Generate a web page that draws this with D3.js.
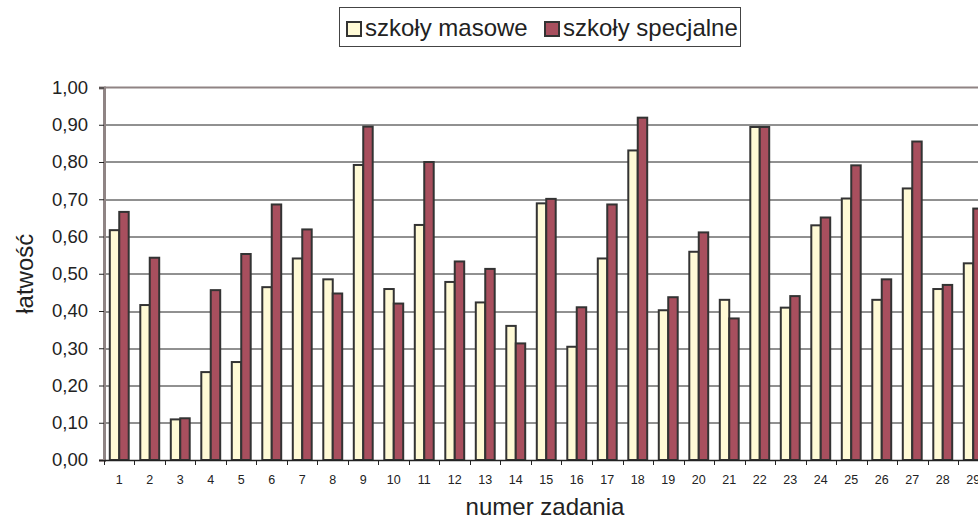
<!DOCTYPE html>
<html>
<head>
<meta charset="utf-8">
<script src="https://cdn.jsdelivr.net/npm/d3@7"></script>
<style>
  body { margin: 0; background: #fff; }
  svg { display: block; font-family: "Liberation Sans", Arial, sans-serif; }
</style>
</head>
<body>
<div id="chart"></div>
<script>
// numer zadania
var categories = d3.range(1, 30).map(String);

// łatwość - szkoły masowe
var masowe = [0.617, 0.416, 0.109, 0.236, 0.263, 0.464, 0.541, 0.485, 0.792, 0.459,
              0.631, 0.478, 0.423, 0.360, 0.689, 0.304, 0.541, 0.831, 0.402, 0.559,
              0.430, 0.894, 0.409, 0.630, 0.702, 0.430, 0.729, 0.459, 0.528];

// łatwość - szkoły specjalne
var specjalne = [0.666, 0.543, 0.112, 0.456, 0.553, 0.686, 0.619, 0.447, 0.895, 0.420,
                 0.800, 0.533, 0.513, 0.313, 0.701, 0.410, 0.686, 0.919, 0.437, 0.611,
                 0.380, 0.894, 0.440, 0.651, 0.791, 0.485, 0.855, 0.470, 0.675];

var seriesNames = ["szkoły masowe", "szkoły specjalne"];
var seriesColors = ["#fffad6", "#a84f5e"];
var yTicks = d3.range(0, 1.01, 0.1);

var width = 978, height = 523;
var margin = { left: 104, top: 87.5, bottom: 63 };
var plotW = 29 * 30.5;
var plotH = height - margin.top - margin.bottom;

var svg = d3.select("#chart")
  .append("svg")
  .attr("width", width)
  .attr("height", height);

var g = svg.append("g")
  .attr("transform", "translate(" + margin.left + "," + margin.top + ")");

var x = d3.scaleBand()
  .domain(categories)
  .range([0, plotW])
  .paddingInner(0.38)
  .paddingOuter(0.19);

var xSub = d3.scaleBand()
  .domain([0, 1])
  .range([0, x.bandwidth()]);

var y = d3.scaleLinear()
  .domain([0, 1])
  .range([plotH, 0]);

// gridlines
g.selectAll(".grid")
  .data(yTicks.slice(1, -1))
  .enter()
  .append("line")
  .attr("x1", 0)
  .attr("x2", plotW)
  .attr("y1", function(d) { return Math.round(y(d)) + 0.5; })
  .attr("y2", function(d) { return Math.round(y(d)) + 0.5; })
  .attr("stroke", "#222")
  .attr("stroke-width", 1);

// plot area border (top)
g.append("line")
  .attr("x1", 0).attr("x2", plotW)
  .attr("y1", 0).attr("y2", 0)
  .attr("stroke", "#8f8484").attr("stroke-width", 2);

// bars
var data = categories.map(function(c, i) {
  return { cat: c, values: [masowe[i], specjalne[i]] };
});

var groups = g.selectAll(".grp")
  .data(data)
  .enter()
  .append("g")
  .attr("transform", function(d) { return "translate(" + x(d.cat) + ",0)"; });

groups.selectAll("rect")
  .data(function(d) { return d.values; })
  .enter()
  .append("rect")
  .attr("x", function(d, i) { return xSub(i); })
  .attr("y", function(d) { return y(d); })
  .attr("width", xSub.bandwidth())
  .attr("height", function(d) { return plotH - y(d); })
  .attr("fill", function(d, i) { return seriesColors[i]; })
  .attr("stroke", "#333")
  .attr("stroke-width", 2);

// y axis
var yAxis = d3.axisLeft(y)
  .tickValues(yTicks)
  .tickSize(5)
  .tickFormat(function(d) { return d3.format(".2f")(d).replace(".", ","); });

var ya = g.append("g").call(yAxis);
ya.select(".domain").attr("stroke", "#8f8484").attr("stroke-width", 3);
ya.selectAll(".tick line").attr("stroke", "#222");
ya.selectAll(".tick text")
  .attr("x", -16)
  .attr("font-size", 18.5)
  .attr("fill", "#222");

// x axis
var xAxis = d3.axisBottom(x).tickSize(0);
var xa = g.append("g")
  .attr("transform", "translate(0," + plotH + ")")
  .call(xAxis);
xa.select(".domain").attr("stroke", "#222").attr("stroke-width", 1.5);
xa.selectAll(".tick text")
  .attr("y", 15)
  .attr("font-size", 12.5)
  .attr("fill", "#222");

// x tick marks between categories
g.selectAll(".xt")
  .data(categories)
  .enter()
  .append("line")
  .attr("x1", function(d) { return Math.round(x(d) - x.step() * 0.19) + 0.5; })
  .attr("x2", function(d) { return Math.round(x(d) - x.step() * 0.19) + 0.5; })
  .attr("y1", plotH)
  .attr("y2", plotH + 5)
  .attr("stroke", "#222");

// axis titles
svg.append("text")
  .attr("transform", "translate(33," + (margin.top + plotH / 2) + ") rotate(-90)")
  .attr("text-anchor", "middle")
  .attr("font-size", 24)
  .attr("fill", "#222")
  .text("łatwość");

svg.append("text")
  .attr("x", 545)
  .attr("y", 515)
  .attr("text-anchor", "middle")
  .attr("font-size", 24)
  .attr("fill", "#222")
  .text("numer zadania");

// legend
var legend = svg.append("g");
legend.append("rect")
  .attr("x", 339.5).attr("y", 7.5)
  .attr("width", 401).attr("height", 39)
  .attr("fill", "#fff")
  .attr("stroke", "#444");

var items = legend.selectAll(".li")
  .data(seriesNames)
  .enter()
  .append("g")
  .attr("transform", function(d, i) { return "translate(" + (i === 0 ? 347 : 545) + ",0)"; });

items.append("rect")
  .attr("x", 0).attr("y", 22)
  .attr("width", 14).attr("height", 14)
  .attr("fill", function(d, i) { return seriesColors[i]; })
  .attr("stroke", "#333")
  .attr("stroke-width", 2);

items.append("text")
  .attr("x", 18).attr("y", 36)
  .attr("font-size", 24)
  .attr("fill", "#222")
  .text(function(d) { return d; });
</script>
</body>
</html>
